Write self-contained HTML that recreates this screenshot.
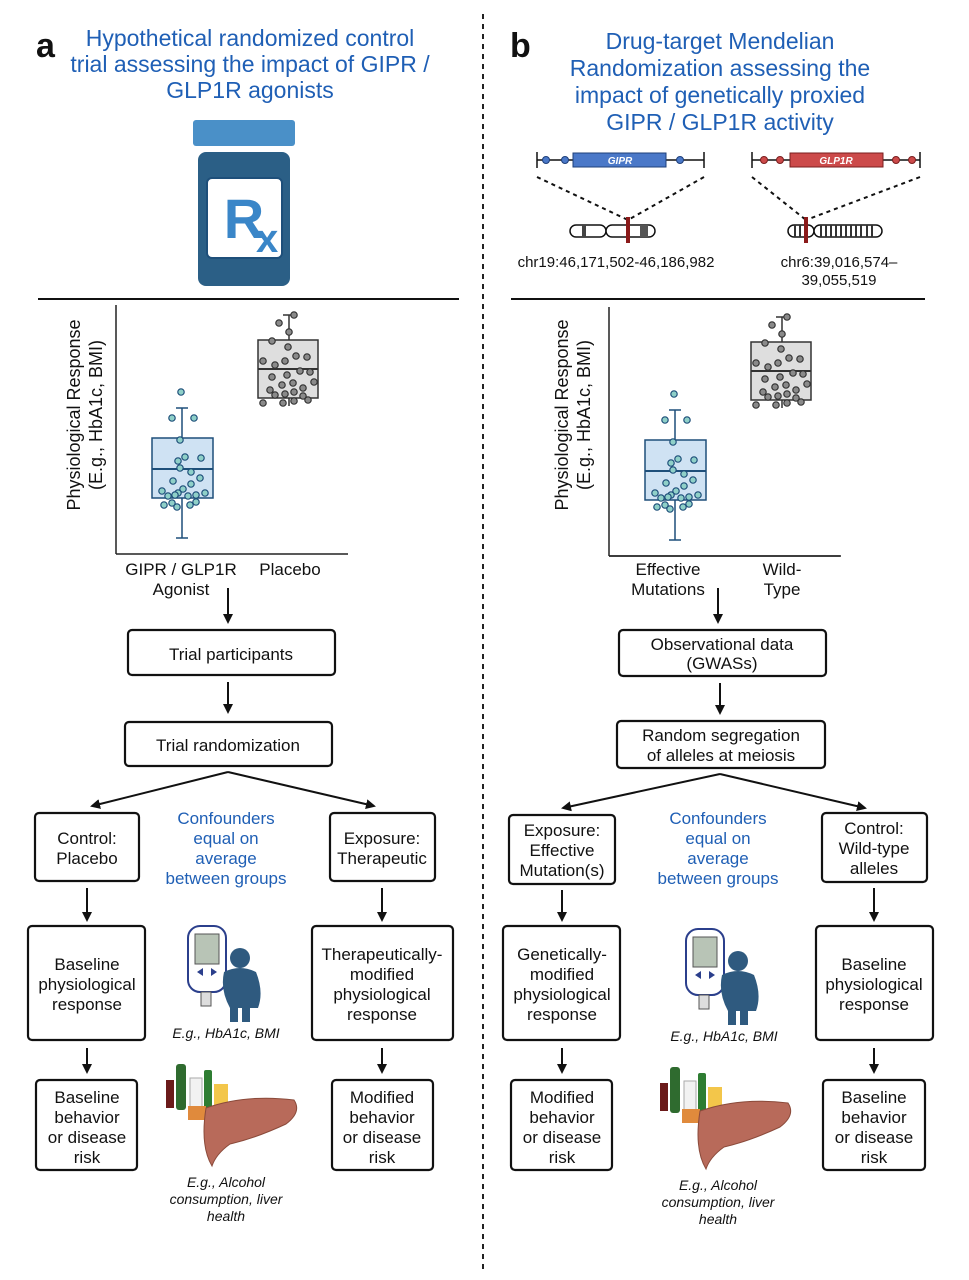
<!DOCTYPE html>
<html><head><meta charset="utf-8"><style>
html,body{margin:0;padding:0;background:#fff}
svg{display:block}
text{font-family:"Liberation Sans",Arial,sans-serif}
.t{fill:#1f5fb5;font-size:23px;text-anchor:middle}
.bx{fill:#fff;stroke:#111;stroke-width:2.2}
.bt{font-size:17px;text-anchor:middle;fill:#111}
.cf{font-size:17px;text-anchor:middle;fill:#1f5fb5}
.it{font-size:14px;font-style:italic;text-anchor:middle;fill:#111}
.ar{stroke:#111;stroke-width:2;fill:none;marker-end:url(#ah)}
.bd{fill:#8fd0c8;stroke:#1e4f7a;stroke-width:1.2}
.gd{fill:#8a8a8a;stroke:#333;stroke-width:1.2}
</style></head><body>
<svg width="969" height="1280" viewBox="0 0 969 1280" xmlns="http://www.w3.org/2000/svg">
<defs>
<marker id="ah" markerWidth="10" markerHeight="10" refX="8" refY="5" orient="auto" markerUnits="userSpaceOnUse"><path d="M0,0 L10,5 L0,10 z" fill="#111"/></marker>
<g id="plot">
<line x1="116" y1="305" x2="116" y2="554" stroke="#222" stroke-width="1.5"/>
<line x1="116" y1="554" x2="348" y2="554" stroke="#222" stroke-width="1.5"/>
<line x1="182" y1="408" x2="182" y2="538" stroke="#1e4f7a" stroke-width="1.5"/>
<line x1="176" y1="408" x2="188" y2="408" stroke="#1e4f7a" stroke-width="1.5"/>
<line x1="176" y1="538" x2="188" y2="538" stroke="#1e4f7a" stroke-width="1.5"/>
<rect x="152" y="438" width="61" height="60" fill="#cfe2f3" stroke="#1e4f7a" stroke-width="1.5"/>
<line x1="152" y1="469" x2="213" y2="469" stroke="#1e4f7a" stroke-width="2"/>
<g class="bd">
<circle cx="181" cy="392" r="3.2"/><circle cx="172" cy="418" r="3.2"/><circle cx="194" cy="418" r="3.2"/><circle cx="180" cy="440" r="3.2"/><circle cx="178" cy="461" r="3.2"/><circle cx="185" cy="457" r="3.2"/><circle cx="201" cy="458" r="3.2"/><circle cx="180" cy="468" r="3.2"/><circle cx="191" cy="472" r="3.2"/><circle cx="173" cy="481" r="3.2"/><circle cx="191" cy="484" r="3.2"/><circle cx="200" cy="478" r="3.2"/><circle cx="183" cy="489" r="3.2"/><circle cx="178" cy="493" r="3.2"/><circle cx="162" cy="491" r="3.2"/><circle cx="168" cy="496" r="3.2"/><circle cx="175" cy="495" r="3.2"/><circle cx="188" cy="496" r="3.2"/><circle cx="196" cy="495" r="3.2"/><circle cx="196" cy="502" r="3.2"/><circle cx="164" cy="505" r="3.2"/><circle cx="172" cy="503" r="3.2"/><circle cx="177" cy="507" r="3.2"/><circle cx="190" cy="505" r="3.2"/><circle cx="205" cy="493" r="3.2"/>
</g>
<line x1="289" y1="315" x2="289" y2="406" stroke="#333" stroke-width="1.5"/>
<line x1="283" y1="315" x2="295" y2="315" stroke="#333" stroke-width="1.5"/>
<rect x="258" y="340" width="60" height="58" fill="#dedede" stroke="#333" stroke-width="1.5"/>
<line x1="258" y1="369" x2="318" y2="369" stroke="#333" stroke-width="2"/>
<g class="gd">
<circle cx="294" cy="315" r="3.2"/><circle cx="279" cy="323" r="3.2"/><circle cx="289" cy="332" r="3.2"/><circle cx="272" cy="341" r="3.2"/><circle cx="288" cy="347" r="3.2"/><circle cx="263" cy="361" r="3.2"/><circle cx="275" cy="365" r="3.2"/><circle cx="285" cy="361" r="3.2"/><circle cx="296" cy="356" r="3.2"/><circle cx="307" cy="357" r="3.2"/><circle cx="272" cy="377" r="3.2"/><circle cx="287" cy="375" r="3.2"/><circle cx="300" cy="371" r="3.2"/><circle cx="310" cy="372" r="3.2"/><circle cx="282" cy="385" r="3.2"/><circle cx="293" cy="383" r="3.2"/><circle cx="303" cy="388" r="3.2"/><circle cx="314" cy="382" r="3.2"/><circle cx="270" cy="390" r="3.2"/><circle cx="275" cy="395" r="3.2"/><circle cx="285" cy="394" r="3.2"/><circle cx="294" cy="392" r="3.2"/><circle cx="303" cy="396" r="3.2"/><circle cx="263" cy="403" r="3.2"/><circle cx="283" cy="403" r="3.2"/><circle cx="294" cy="401" r="3.2"/><circle cx="308" cy="400" r="3.2"/>
</g>
</g>
<g id="meter">
<rect x="-22" y="0" width="38" height="66" rx="12" fill="#fff" stroke="#2b3f8c" stroke-width="2"/>
<rect x="-15" y="8" width="24" height="30" fill="#b8c4b6" stroke="#555"/>
<path d="M-13,46 l6,-4 v8z M7,46 l-6,-4 v8z" fill="#2b3f8c"/>
<rect x="-9" y="66" width="10" height="14" fill="#ddd" stroke="#555"/>
<circle cx="30" cy="32" r="10" fill="#2f5a7f"/>
<path d="M14,46 q16,-8 32,0 q8,20 2,36 h-8 v14 h-8 v-14 h-4 v14 h-8 v-14 q-10,-18 -6,-36z" fill="#2f5a7f"/>
</g>
<g id="liver">
<rect x="-62" y="10" width="8" height="28" fill="#6b1a1a"/>
<rect x="-52" y="-6" width="10" height="46" rx="3" fill="#2f6b2f"/>
<rect x="-38" y="8" width="12" height="34" fill="#f2f2f2" stroke="#aaa"/>
<rect x="-24" y="0" width="8" height="42" rx="2" fill="#2e7d32"/>
<rect x="-14" y="14" width="14" height="26" fill="#f3c64a"/>
<rect x="-40" y="36" width="18" height="14" fill="#e08a3c"/>
<path d="M-22,38 q40,-14 88,-8 q8,12 -8,24 q-30,14 -56,20 q-14,10 -18,22 q-12,-20 -6,-58z" fill="#b86a5a" stroke="#8a4a3a"/>
</g>
</defs>

<line x1="483" y1="14" x2="483" y2="1272" stroke="#222" stroke-width="2" stroke-dasharray="5,5"/>

<!-- Panel a -->
<text x="36" y="57" font-size="34" font-weight="bold" fill="#111">a</text>
<text class="t" x="250" y="46">Hypothetical randomized control</text>
<text class="t" x="250" y="72">trial assessing the impact of GIPR /</text>
<text class="t" x="250" y="98">GLP1R agonists</text>
<rect x="193" y="120" width="102" height="26" rx="3" fill="#4a90c8"/>
<rect x="198" y="152" width="92" height="134" rx="8" fill="#2b5f86"/>
<rect x="207" y="178" width="75" height="80" rx="5" fill="#fff" stroke="#1e4f7a" stroke-width="2"/>
<text x="244" y="238" font-size="56" font-weight="bold" fill="#3a86c8" text-anchor="middle">R</text>
<text x="256" y="252" font-size="40" font-weight="bold" fill="#3a86c8">x</text>
<line x1="38" y1="299" x2="459" y2="299" stroke="#111" stroke-width="2"/>
<use href="#plot"/>
<text transform="translate(80,415) rotate(-90)" font-size="18" text-anchor="middle" fill="#111"><tspan x="0" y="0">Physiological Response</tspan><tspan x="0" y="22">(E.g., HbA1c, BMI)</tspan></text>
<text class="bt" x="181" y="575">GIPR / GLP1R</text>
<text class="bt" x="181" y="595">Agonist</text>
<text class="bt" x="290" y="575">Placebo</text>
<line class="ar" x1="228" y1="588" x2="228" y2="622"/>
<rect class="bx" x="128" y="630" width="207" height="45" rx="4"/>
<text class="bt" x="231" y="660" font-size="20">Trial participants</text>
<line class="ar" x1="228" y1="682" x2="228" y2="712"/>
<rect class="bx" x="125" y="722" width="207" height="44" rx="4"/>
<text class="bt" x="228" y="751" font-size="18">Trial randomization</text>
<line class="ar" x1="228" y1="772" x2="92" y2="806"/>
<line class="ar" x1="228" y1="772" x2="374" y2="806"/>
<rect class="bx" x="35" y="813" width="104" height="68" rx="4"/>
<text class="bt" x="87" y="844">Control:</text><text class="bt" x="87" y="864">Placebo</text>
<text class="cf" x="226" y="824">Confounders</text><text class="cf" x="226" y="844">equal on</text><text class="cf" x="226" y="864">average</text><text class="cf" x="226" y="884">between groups</text>
<rect class="bx" x="330" y="813" width="105" height="68" rx="4"/>
<text class="bt" x="382" y="844">Exposure:</text><text class="bt" x="382" y="864">Therapeutic</text>
<line class="ar" x1="87" y1="888" x2="87" y2="920"/>
<line class="ar" x1="382" y1="888" x2="382" y2="920"/>
<rect class="bx" x="28" y="926" width="117" height="114" rx="4"/>
<text class="bt" x="87" y="970">Baseline</text><text class="bt" x="87" y="990">physiological</text><text class="bt" x="87" y="1010">response</text>
<rect class="bx" x="312" y="926" width="141" height="114" rx="4"/>
<text class="bt" x="382" y="960">Therapeutically-</text><text class="bt" x="382" y="980">modified</text><text class="bt" x="382" y="1000">physiological</text><text class="bt" x="382" y="1020">response</text>
<use href="#meter" x="210" y="926"/>
<text class="it" x="226" y="1038">E.g., HbA1c, BMI</text>
<line class="ar" x1="87" y1="1048" x2="87" y2="1072"/>
<line class="ar" x1="382" y1="1048" x2="382" y2="1072"/>
<rect class="bx" x="36" y="1080" width="101" height="90" rx="4"/>
<text class="bt" x="87" y="1103">Baseline</text><text class="bt" x="87" y="1123">behavior</text><text class="bt" x="87" y="1143">or disease</text><text class="bt" x="87" y="1163">risk</text>
<rect class="bx" x="332" y="1080" width="101" height="90" rx="4"/>
<text class="bt" x="382" y="1103">Modified</text><text class="bt" x="382" y="1123">behavior</text><text class="bt" x="382" y="1143">or disease</text><text class="bt" x="382" y="1163">risk</text>
<use href="#liver" x="228" y="1070"/>
<text class="it" x="226" y="1187">E.g., Alcohol</text><text class="it" x="226" y="1204">consumption, liver</text><text class="it" x="226" y="1221">health</text>

<!-- Panel b -->
<text x="510" y="57" font-size="34" font-weight="bold" fill="#111">b</text>
<text class="t" x="720" y="49">Drug-target Mendelian</text>
<text class="t" x="720" y="76">Randomization assessing the</text>
<text class="t" x="720" y="103">impact of genetically proxied</text>
<text class="t" x="720" y="130">GIPR / GLP1R activity</text>
<g stroke="#111" stroke-width="1.5">
<line x1="537" y1="160" x2="704" y2="160"/><line x1="537" y1="152" x2="537" y2="168"/><line x1="704" y1="152" x2="704" y2="168"/>
<line x1="752" y1="160" x2="920" y2="160"/><line x1="752" y1="152" x2="752" y2="168"/><line x1="920" y1="152" x2="920" y2="168"/>
</g>
<rect x="573" y="153" width="93" height="14" fill="#4a78c8" stroke="#1e3f7a"/>
<text x="620" y="164" font-size="10" font-style="italic" fill="#fff" text-anchor="middle" font-weight="bold">GIPR</text>
<rect x="790" y="153" width="93" height="14" fill="#cc4a4a" stroke="#7a1e1e"/>
<text x="836" y="164" font-size="10" font-style="italic" fill="#fff" text-anchor="middle" font-weight="bold">GLP1R</text>
<g fill="#4a78c8" stroke="#1e3f7a"><circle cx="546" cy="160" r="3.5"/><circle cx="565" cy="160" r="3.5"/><circle cx="680" cy="160" r="3.5"/></g>
<g fill="#cc4a4a" stroke="#7a1e1e"><circle cx="764" cy="160" r="3.5"/><circle cx="780" cy="160" r="3.5"/><circle cx="896" cy="160" r="3.5"/><circle cx="912" cy="160" r="3.5"/></g>
<g stroke="#111" stroke-width="2" stroke-dasharray="4,4">
<line x1="537" y1="177" x2="628" y2="220"/><line x1="704" y1="177" x2="628" y2="220"/>
<line x1="752" y1="177" x2="806" y2="220"/><line x1="920" y1="177" x2="806" y2="220"/>
</g>
<rect x="570" y="225" width="36" height="12" rx="6" fill="#fff" stroke="#111" stroke-width="1.5"/>
<rect x="606" y="225" width="49" height="12" rx="6" fill="#fff" stroke="#111" stroke-width="1.5"/>
<rect x="582" y="225" width="4" height="12" fill="#444"/><rect x="640" y="225" width="8" height="12" fill="#555"/>
<rect x="626" y="217" width="4" height="26" fill="#8b1a1a"/>
<rect x="788" y="225" width="26" height="12" rx="6" fill="#fff" stroke="#111" stroke-width="1.5"/>
<rect x="814" y="225" width="68" height="12" rx="6" fill="#fff" stroke="#111" stroke-width="1.5"/>
<g fill="#333"><rect x="794" y="225" width="2" height="12"/><rect x="799" y="225" width="2" height="12"/><rect x="820" y="225" width="2" height="12"/><rect x="825" y="225" width="2" height="12"/><rect x="830" y="225" width="2" height="12"/><rect x="835" y="225" width="2" height="12"/><rect x="840" y="225" width="2" height="12"/><rect x="845" y="225" width="2" height="12"/><rect x="850" y="225" width="2" height="12"/><rect x="855" y="225" width="2" height="12"/><rect x="860" y="225" width="2" height="12"/><rect x="866" y="225" width="2" height="12"/><rect x="871" y="225" width="2" height="12"/></g>
<rect x="804" y="217" width="4" height="26" fill="#8b1a1a"/>
<text x="616" y="267" font-size="15" text-anchor="middle" fill="#111">chr19:46,171,502-46,186,982</text>
<text x="839" y="267" font-size="15" text-anchor="middle" fill="#111">chr6:39,016,574–</text>
<text x="839" y="285" font-size="15" text-anchor="middle" fill="#111">39,055,519</text>
<line x1="511" y1="299" x2="925" y2="299" stroke="#111" stroke-width="2"/>
<g transform="translate(493,2)"><use href="#plot"/></g>
<line x1="609" y1="556" x2="840" y2="556" stroke="#222" stroke-width="1.5"/>
<text transform="translate(568,415) rotate(-90)" font-size="18" text-anchor="middle" fill="#111"><tspan x="0" y="0">Physiological Response</tspan><tspan x="0" y="22">(E.g., HbA1c, BMI)</tspan></text>
<text class="bt" x="668" y="575">Effective</text><text class="bt" x="668" y="595">Mutations</text>
<text class="bt" x="782" y="575">Wild-</text><text class="bt" x="782" y="595">Type</text>
<line class="ar" x1="718" y1="588" x2="718" y2="622"/>
<rect class="bx" x="619" y="630" width="207" height="46" rx="4"/>
<text class="bt" x="722" y="650">Observational data</text><text class="bt" x="722" y="669">(GWASs)</text>
<line class="ar" x1="720" y1="683" x2="720" y2="713"/>
<rect class="bx" x="617" y="721" width="208" height="47" rx="4"/>
<text class="bt" x="721" y="741">Random segregation</text><text class="bt" x="721" y="761">of alleles at meiosis</text>
<line class="ar" x1="720" y1="774" x2="563" y2="808"/>
<line class="ar" x1="720" y1="774" x2="865" y2="808"/>
<rect class="bx" x="509" y="815" width="106" height="69" rx="4"/>
<text class="bt" x="562" y="836">Exposure:</text><text class="bt" x="562" y="856">Effective</text><text class="bt" x="562" y="876">Mutation(s)</text>
<text class="cf" x="718" y="824">Confounders</text><text class="cf" x="718" y="844">equal on</text><text class="cf" x="718" y="864">average</text><text class="cf" x="718" y="884">between groups</text>
<rect class="bx" x="822" y="813" width="105" height="69" rx="4"/>
<text class="bt" x="874" y="834">Control:</text><text class="bt" x="874" y="854">Wild-type</text><text class="bt" x="874" y="874">alleles</text>
<line class="ar" x1="562" y1="890" x2="562" y2="920"/>
<line class="ar" x1="874" y1="888" x2="874" y2="920"/>
<rect class="bx" x="503" y="926" width="117" height="114" rx="4"/>
<text class="bt" x="562" y="960">Genetically-</text><text class="bt" x="562" y="980">modified</text><text class="bt" x="562" y="1000">physiological</text><text class="bt" x="562" y="1020">response</text>
<rect class="bx" x="816" y="926" width="117" height="114" rx="4"/>
<text class="bt" x="874" y="970">Baseline</text><text class="bt" x="874" y="990">physiological</text><text class="bt" x="874" y="1010">response</text>
<use href="#meter" x="708" y="929"/>
<text class="it" x="724" y="1041">E.g., HbA1c, BMI</text>
<line class="ar" x1="562" y1="1048" x2="562" y2="1072"/>
<line class="ar" x1="874" y1="1048" x2="874" y2="1072"/>
<rect class="bx" x="511" y="1080" width="101" height="90" rx="4"/>
<text class="bt" x="562" y="1103">Modified</text><text class="bt" x="562" y="1123">behavior</text><text class="bt" x="562" y="1143">or disease</text><text class="bt" x="562" y="1163">risk</text>
<rect class="bx" x="823" y="1080" width="102" height="90" rx="4"/>
<text class="bt" x="874" y="1103">Baseline</text><text class="bt" x="874" y="1123">behavior</text><text class="bt" x="874" y="1143">or disease</text><text class="bt" x="874" y="1163">risk</text>
<use href="#liver" x="722" y="1073"/>
<text class="it" x="718" y="1190">E.g., Alcohol</text><text class="it" x="718" y="1207">consumption, liver</text><text class="it" x="718" y="1224">health</text>
</svg>
</body></html>
